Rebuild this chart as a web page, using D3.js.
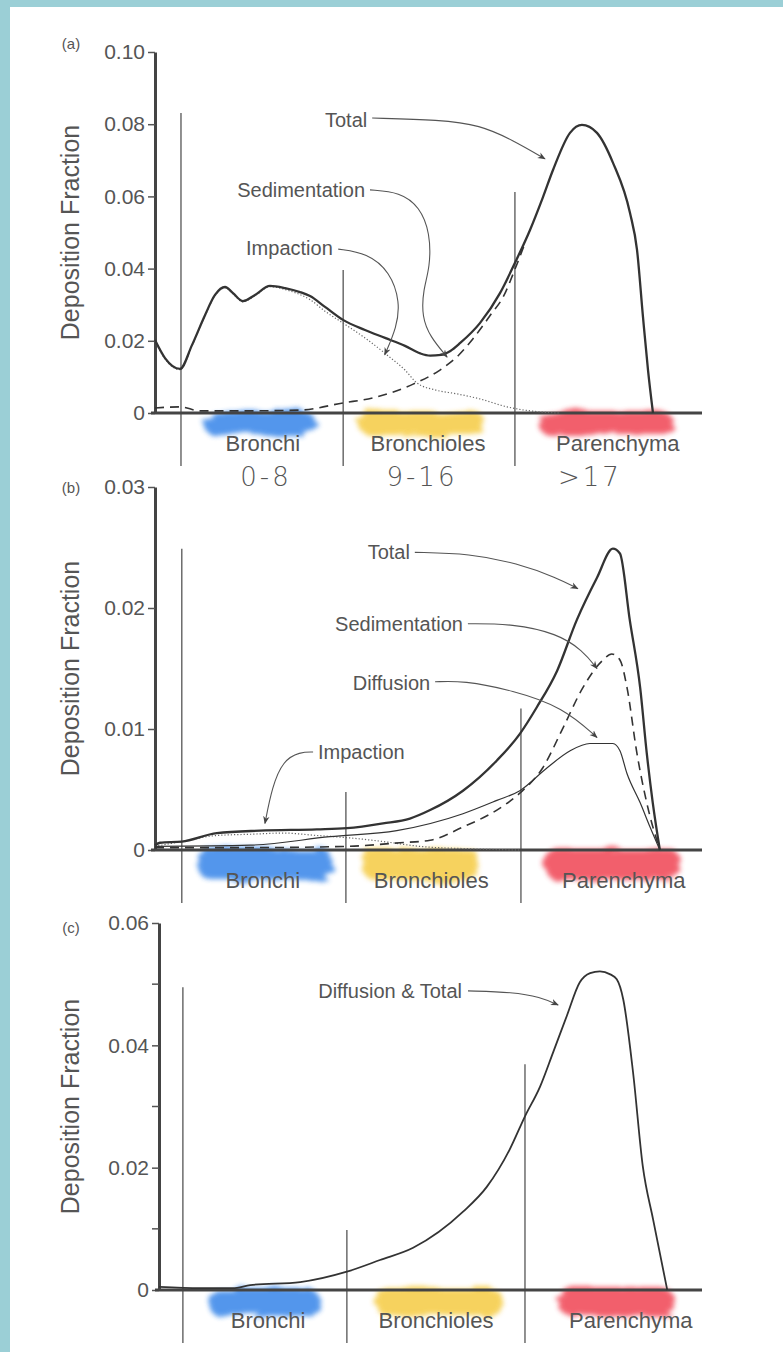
<!DOCTYPE html>
<html>
<head>
<meta charset="utf-8">
<script src="https://cdn.jsdelivr.net/npm/d3@7"></script>
<style>
  body { margin: 0; background: #fff; }
  svg { display: block; }
  text { font-family: "Liberation Sans", Arial, sans-serif; fill: #555; }
</style>
</head>
<body>
<div id="chart"></div>
<script>
// x = relative position along the airways (0..100 of the axis), y = deposition fraction
var regionNames = ["Bronchi", "Bronchioles", "Parenchyma"];
var regionColors = ["#2f80e8", "#f5c93b", "#f03c4e"];
var generationNotes = ["0-8", "9-16", ">17"];
var generationPosA = [20.3, 48.8, 79.5];

// ---- panel (a)
var ticksA = [0, 0.02, 0.04, 0.06, 0.08, 0.10];
var totalA = [[0,0.0202],[1.83,0.0152],[4.57,0.0122],[6.76,0.0188],[9.14,0.0271],[10.97,0.0327],[12.8,0.0349],[14.26,0.0332],[16.09,0.0310],[18.28,0.0327],[21.02,0.0352],[23.77,0.0346],[26.51,0.0335],[28.34,0.0324],[31.08,0.0294],[34.37,0.0258],[38.39,0.0230],[42.05,0.0208],[45.7,0.0186],[48.5,0.0165],[50.3,0.0159],[52.3,0.0161],[54.0,0.0172],[55.8,0.0194],[59.4,0.0249],[63.07,0.0332],[65.81,0.0416],[68.56,0.0507],[70.93,0.0598],[72.76,0.0673],[75.87,0.0776],[78.06,0.0798],[80.8,0.0776],[83.73,0.0693],[86.84,0.0554],[88.12,0.0452],[89.21,0.0266],[90.13,0.0119],[91.04,0]];
var impactionA = [[0,0.0198],[1.83,0.0150],[4.57,0.0120],[6.76,0.0186],[9.14,0.0269],[10.97,0.0325],[12.8,0.0347],[14.26,0.0330],[16.09,0.0308],[18.28,0.0325],[21.02,0.0350],[23.77,0.0342],[26.51,0.0328],[28.34,0.0314],[31.08,0.0282],[34.37,0.0249],[38.39,0.0208],[42.4,0.0161],[45.7,0.0119],[47.9,0.0083],[51.2,0.0064],[55.2,0.0053],[59.4,0.0039],[64.35,0.0017],[70.4,0.0003],[74,0]];
var sedimentationA = [[0,0.0014],[4.57,0.0017],[8.2,0.0006],[17.4,0.0006],[26.5,0.0008],[34.4,0.0028],[39.85,0.0042],[47.2,0.0080],[52.1,0.0119],[55.5,0.0160],[58.1,0.0205],[61.5,0.0275],[63.6,0.0320],[65.8,0.0398],[67.5,0.0465]];
var dividerPosA = [4.75, 34.4, 65.8];
var dividerTopA = [0.0831, 0.0396, 0.0612];
var labelPosA = [19.7, 49.9, 84.6];
var smudgeA = [[8.8, 29.3], [37.1, 60.3], [70.0, 94.7]];

// ---- panel (b)
var ticksB = [0, 0.01, 0.02, 0.03];
var totalB = [[0,0.0004],[0.9,0.0006],[4.9,0.0007],[11.3,0.0014],[19.2,0.0016],[29.6,0.0017],[35.1,0.0018],[41.7,0.0022],[46.6,0.0026],[50.3,0.0033],[56.3,0.0049],[62.5,0.0074],[66.7,0.0096],[69.8,0.0118],[73.5,0.0148],[77.1,0.0190],[80.8,0.0225],[83.7,0.0249],[85.0,0.0245],[86.8,0.0190],[88.7,0.0134],[89.9,0.0080],[91.0,0.0039],[92.3,0]];
var sedimentationB = [[0,0.0002],[17.4,0.0002],[35.1,0.0003],[44.8,0.0006],[50.3,0.0008],[56.3,0.0019],[62.5,0.0033],[66.7,0.0047],[70.9,0.0068],[74.6,0.0101],[78.2,0.0134],[81.9,0.0157],[83.5,0.0162],[85.0,0.0157],[86.3,0.0134],[88.1,0.0080],[89.9,0.0039],[92.3,0]];
var diffusionB = [[0,0.0003],[17.4,0.0004],[32.0,0.0011],[44.2,0.0016],[56.3,0.0030],[62.5,0.0041],[66.7,0.0049],[71.7,0.0068],[75.9,0.0082],[79.5,0.0088],[83.7,0.0088],[85.0,0.0082],[86.3,0.0063],[88.7,0.0039],[90.5,0.0019],[92.3,0]];
var impactionB = [[0,0.0003],[4.9,0.0007],[11.3,0.0012],[17.4,0.0013],[23.4,0.0014],[29.6,0.0012],[35.6,0.0010],[41.7,0.0007],[48.4,0.0003],[57.6,0.0001],[66.7,0]];
var dividerPosB = [4.9, 34.9, 66.9];
var dividerTopB = [0.0249, 0.0048, 0.0117];
var labelPosB = [19.7, 50.5, 85.7];
var smudgeB = [[7.9, 32.5], [37.8, 59.4], [71.3, 96.0]];

// ---- panel (c)
var ticksC = [0, 0.02, 0.04, 0.06];
var minorTicksC = [0.01, 0.03, 0.05];
var totalC = [[0,0.0005],[7.6,0.0003],[13.6,0.0003],[16.8,0.0008],[26.0,0.0013],[34.6,0.0030],[40.7,0.0049],[46.8,0.0069],[56.0,0.0128],[60.4,0.0169],[64.6,0.0230],[67.4,0.0284],[70.2,0.0333],[72.6,0.0389],[75.1,0.0448],[77.5,0.0503],[79.4,0.0518],[81.2,0.0521],[83.1,0.0516],[84.3,0.0508],[85.5,0.0475],[87.3,0.0356],[89.1,0.0202],[91.0,0.0115],[93.6,0]];
var dividerPosC = [4.4, 34.6, 67.4];
var dividerTopC = [0.0495, 0.0098, 0.0369];
var labelPosC = [20.1, 51.0, 86.9];
var smudgeC = [[9.0, 29.6], [39.8, 63.4], [73.5, 95.0]];

// leader annotations: text anchor point and leader path, in data units
var notesA = [
    { text: "Total", at: [38.8, 0.0812], path: [[39.7,0.0817],[52.1,0.0812],[59.4,0.0798],[65.4,0.0756],[71.3,0.0704]] },
    { text: "Sedimentation", at: [38.4, 0.0618], path: [[39.3,0.0618],[44.8,0.0612],[48.4,0.0571],[50.3,0.0499],[50.3,0.0404],[49.0,0.0341],[48.8,0.0266],[50.3,0.0211],[53.4,0.0155]] },
    { text: "Impaction", at: [32.5, 0.0457], path: [[33.5,0.0454],[38.8,0.0443],[43.0,0.0391],[44.8,0.0307],[44.2,0.0238],[42.0,0.0161]] }
];
var notesB = [
    { text: "Total", at: [46.6, 0.0246], path: [[47.5,0.0246],[57.6,0.0245],[66.2,0.0237],[73.5,0.0225],[77.3,0.0216]] },
    { text: "Sedimentation", at: [56.3, 0.0187], path: [[57.2,0.0187],[65.4,0.0187],[73.5,0.0179],[78.2,0.0165],[80.8,0.0150]] },
    { text: "Diffusion", at: [50.3, 0.0138], path: [[51.2,0.0139],[56.3,0.0140],[65.4,0.0132],[74.6,0.0118],[80.8,0.0093]] },
    { text: "Impaction", at: [29.8, 0.0081], start: true, path: [[28.9,0.0081],[26.5,0.0081],[23.4,0.0074],[21.4,0.0052],[20.1,0.0022]] }
];
var notesC = [
    { text: "Diffusion & Total", at: [55.8, 0.0489], path: [[56.9,0.0489],[65.2,0.0487],[70.2,0.0479],[73.5,0.0466]] }
];

var panels = [
    { tag: "(a)", tagShift: -8, left: 155, right: 702, top: 52, base: 413, yMax: 0.10, ticks: ticksA, minor: [],
      series: [
          { data: sedimentationA, width: 1.6, dash: "9,6" },
          { data: impactionA, width: 1.2, dash: "1.2,2", color: "#666" },
          { data: totalA, width: 2.3 }
      ],
      dividers: dividerPosA, dividerTops: dividerTopA, labels: labelPosA, smudges: smudgeA, smudgeH: 24, notes: notesA },
    { tag: "(b)", tagShift: 1, left: 155, right: 702, top: 487, base: 850, yMax: 0.03, ticks: ticksB, minor: [],
      series: [
          { data: impactionB, width: 1.2, dash: "1.2,2", color: "#666" },
          { data: diffusionB, width: 1.2 },
          { data: sedimentationB, width: 1.6, dash: "9,6" },
          { data: totalB, width: 2.3 }
      ],
      dividers: dividerPosB, dividerTops: dividerTopB, labels: labelPosB, smudges: smudgeB, smudgeH: 32, notes: notesB },
    { tag: "(c)", tagShift: 5, left: 159, right: 702, top: 923, base: 1290, yMax: 0.06, ticks: ticksC, minor: minorTicksC,
      series: [
          { data: totalC, width: 1.8 }
      ],
      dividers: dividerPosC, dividerTops: dividerTopC, labels: labelPosC, smudges: smudgeC, smudgeH: 28, notes: notesC }
];

var W = 783, H = 1352;
var svg = d3.select("#chart").append("svg").attr("width", W).attr("height", H);

var defs = svg.append("defs");
defs.append("marker")
    .attr("id", "arrow")
    .attr("viewBox", "0 0 10 10")
    .attr("refX", 9).attr("refY", 5)
    .attr("markerWidth", 8).attr("markerHeight", 8)
    .attr("markerUnits", "userSpaceOnUse")
    .attr("orient", "auto")
    .append("path")
    .attr("d", "M0,1 L10,5 L0,9 L3,5 z")
    .attr("fill", "#444");

// crayon like smudge: streaky noise, then soft edges
var f = defs.append("filter").attr("id", "smudge")
    .attr("x", "-15%").attr("y", "-50%").attr("width", "130%").attr("height", "200%");
f.append("feTurbulence").attr("type", "fractalNoise").attr("baseFrequency", "0.03 0.15").attr("numOctaves", 3).attr("seed", 4).attr("result", "noise");
f.append("feDisplacementMap").attr("in", "SourceGraphic").attr("in2", "noise").attr("scale", 12).attr("result", "disp");
f.append("feGaussianBlur").attr("in", "disp").attr("stdDeviation", 2.4);

svg.append("rect").attr("width", W).attr("height", H).attr("fill", "#fff");
// light blue frame on left and top
svg.append("rect").attr("x", 0).attr("y", 0).attr("width", 10).attr("height", H).attr("fill", "#9bcfd6");
svg.append("rect").attr("x", 0).attr("y", 0).attr("width", W).attr("height", 7).attr("fill", "#9bcfd6");

function draw(p) {

    var xScale = d3.scaleLinear().domain([0, 100]).range([p.left, p.right]);
    var yScale = d3.scaleLinear().domain([0, p.yMax]).range([p.base, p.top]);

    var g = svg.append("g");

    // colored smudges under region names
    g.selectAll(".smudge").data(p.smudges).enter()
        .append("rect")
        .attr("x", d => xScale(d[0]))
        .attr("y", p.base - 2)
        .attr("width", d => xScale(d[1]) - xScale(d[0]))
        .attr("height", p.smudgeH)
        .attr("rx", 14)
        .attr("fill", (d, i) => regionColors[i])
        .attr("opacity", 0.82)
        .attr("filter", "url(#smudge)");

    // region dividers
    g.selectAll(".divider").data(p.dividers).enter()
        .append("line")
        .attr("x1", d => xScale(d)).attr("x2", d => xScale(d))
        .attr("y1", (d, i) => yScale(p.dividerTops[i]))
        .attr("y2", p.base + 53)
        .attr("stroke", "#555")
        .attr("stroke-width", 1.3);

    // y axis
    var yAxis = g.append("g")
        .attr("transform", "translate(" + p.left + ",0)")
        .call(d3.axisLeft(yScale)
            .tickValues(p.ticks)
            .tickSize(7)
            .tickSizeOuter(0)
            .tickPadding(3)
            .tickFormat(d => d === 0 ? "0" : d3.format(".2f")(d)));
    yAxis.select(".domain").attr("stroke", "#444").attr("stroke-width", 3);
    yAxis.selectAll(".tick line").attr("stroke", "#555").attr("stroke-width", 1.5);
    yAxis.selectAll(".tick text")
        .style("font-family", "'Liberation Sans', Arial, sans-serif")
        .style("font-size", "21px")
        .attr("fill", "#555");

    g.selectAll(".minor").data(p.minor).enter()
        .append("line")
        .attr("x1", p.left - 7).attr("x2", p.left)
        .attr("y1", d => yScale(d)).attr("y2", d => yScale(d))
        .attr("stroke", "#555").attr("stroke-width", 1.5);

    // x axis line
    g.append("line")
        .attr("x1", p.left - 4).attr("x2", p.right)
        .attr("y1", p.base).attr("y2", p.base)
        .attr("stroke", "#444")
        .attr("stroke-width", 3);

    // axis title
    g.append("text")
        .attr("transform", "translate(70," + ((p.base + p.top) / 2) + ") rotate(-90)")
        .attr("text-anchor", "middle")
        .attr("dy", "0.35em")
        .style("font-size", "25px")
        .attr("fill", "#5a5a5a")
        .text("Deposition Fraction");

    g.append("text")
        .attr("x", 71).attr("y", p.top + p.tagShift)
        .attr("dy", "0.35em")
        .attr("text-anchor", "middle")
        .style("font-size", "15px")
        .attr("fill", "#666")
        .text(p.tag);

    // curves
    var line = d3.line()
        .x(d => xScale(d[0]))
        .y(d => yScale(d[1]))
        .curve(d3.curveMonotoneX);

    g.selectAll(".curve").data(p.series).enter()
        .append("path")
        .attr("d", d => line(d.data))
        .attr("fill", "none")
        .attr("stroke", d => d.color || "#333")
        .attr("stroke-width", d => d.width)
        .attr("stroke-dasharray", d => d.dash || null)
        .attr("stroke-linejoin", "round");

    // region names
    g.selectAll(".region").data(p.labels).enter()
        .append("text")
        .attr("x", d => xScale(d))
        .attr("y", p.base + 38)
        .attr("text-anchor", "middle")
        .style("font-size", "22px")
        .attr("fill", "#555")
        .text((d, i) => regionNames[i]);

    // leader annotations
    var leader = d3.line()
        .x(d => xScale(d[0]))
        .y(d => yScale(d[1]))
        .curve(d3.curveBasis);

    g.selectAll(".leader").data(p.notes).enter()
        .append("path")
        .attr("d", d => leader(d.path))
        .attr("fill", "none")
        .attr("stroke", "#555")
        .attr("stroke-width", 1.1)
        .attr("marker-end", "url(#arrow)");

    g.selectAll(".note").data(p.notes).enter()
        .append("text")
        .attr("x", d => xScale(d.at[0]))
        .attr("y", d => yScale(d.at[1]))
        .attr("dy", "0.35em")
        .attr("text-anchor", d => d.start ? "start" : "end")
        .style("font-size", "20px")
        .attr("fill", "#555")
        .text(d => d.text);

    return xScale;
}

var xA = draw(panels[0]);
draw(panels[1]);
draw(panels[2]);

// handwritten generation numbers under panel (a)
svg.selectAll(".gen").data(generationNotes).enter()
    .append("text")
    .attr("x", (d, i) => xA(generationPosA[i]))
    .attr("y", panels[0].base + 73)
    .attr("text-anchor", "middle")
    .style("font-family", "'DejaVu Sans', sans-serif")
    .style("font-size", "26px")
    .style("font-weight", "200")
    .style("letter-spacing", "3px")
    .attr("fill", "#999")
    .text(d => d);
</script>
</body>
</html>
